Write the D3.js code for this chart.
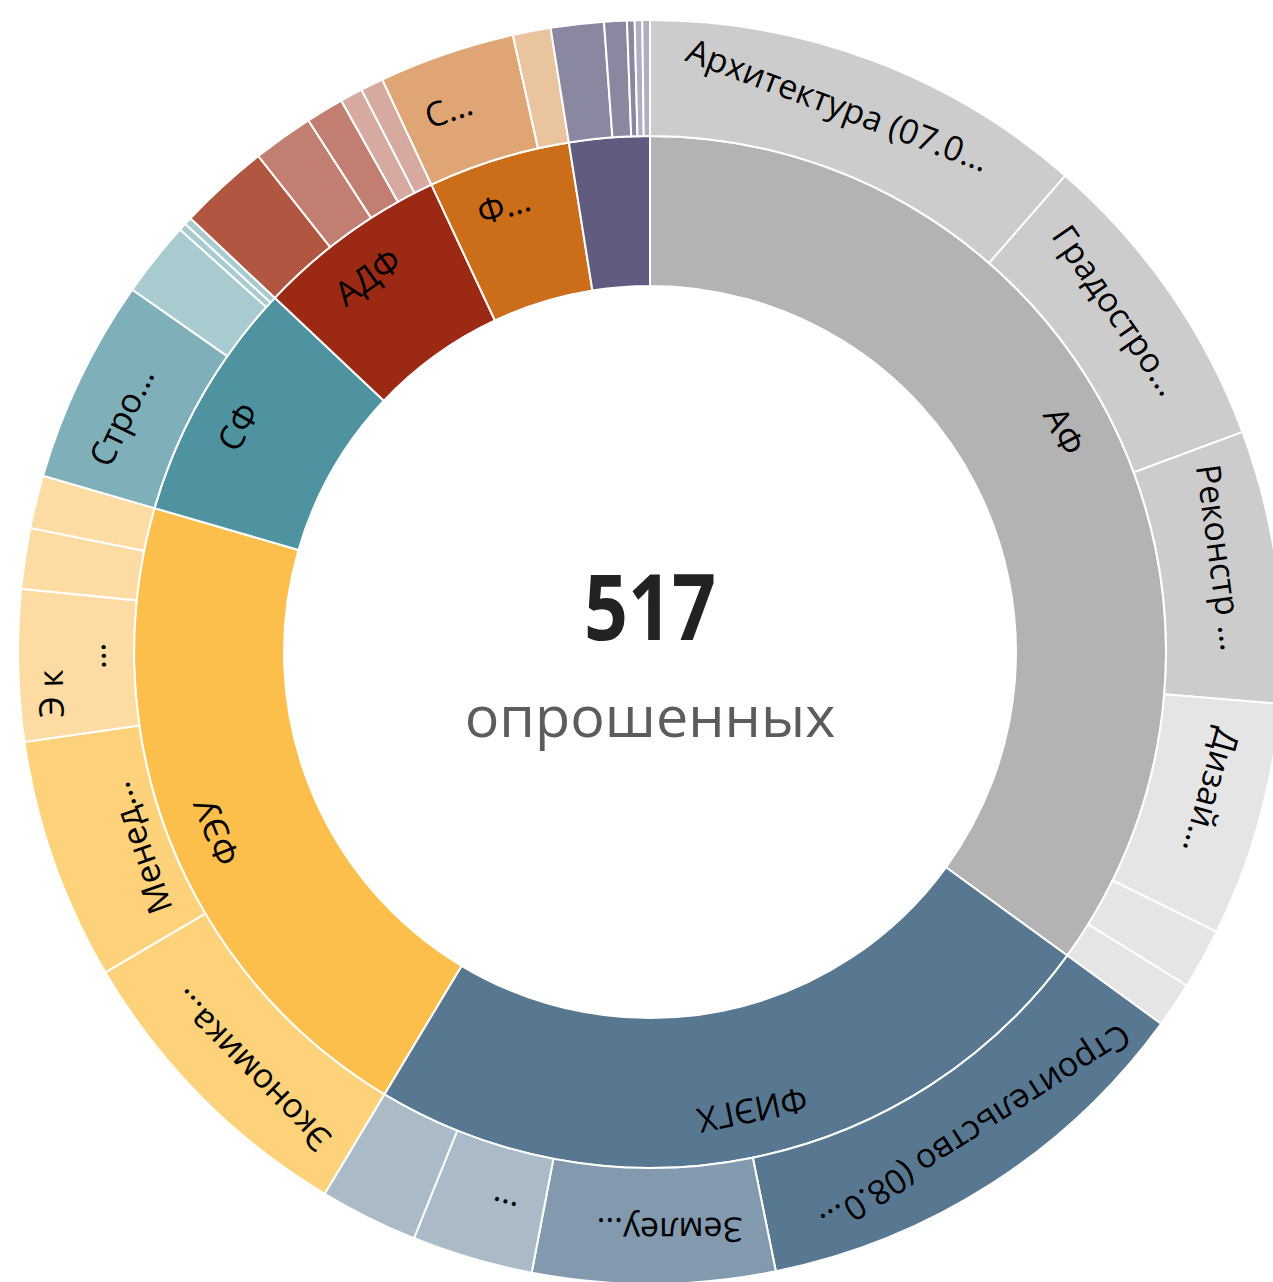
<!DOCTYPE html>
<html>
<head>
<meta charset="utf-8">
<script src="https://cdn.jsdelivr.net/npm/d3@7"></script>
<style>
  body { margin: 0; background: #fff; }
  text { font-family: "Open Sans", sans-serif; }
</style>
</head>
<body>
<div id="chart"></div>
<script>
// faculties (inner ring) and their programs (outer ring)
const facultyNames = ["АФ", "ФИЭГХ", "ФЭУ", "СФ", "АДФ", "Ф…", ""];

const programNames = [
  ["Архитектура (07.0…", "Градостро…", "Реконстр …", "Дизай…", "", ""],
  ["Строительство (08.0…", "Землеу…", "…", ""],
  ["Экономика…", "\nМенед…", "Э к\n…", "", ""],
  ["Стро…", "", "", ""],
  ["", "", "", "", ""],
  ["С…", ""],
  ["", "", "", "", ""]
];

const programCounts = [
  [59, 41, 36, 31, 8, 6],
  [61, 32, 16, 13],
  [41, 32, 20, 8, 7],
  [27, 10, 1, 1],
  [12, 8, 5, 3, 3],
  [18, 5],
  [7, 3, 1, 1, 1]
];

const totalLabel = "опрошенных";

// styles
const facultyColors = ["#b3b3b3", "#587891", "#fcbf4b", "#4f93a1", "#9c2913", "#cc6d19", "#615c7f"];
const programColors = [
  ["#cccccc", "#cccccc", "#cccccc", "#e5e5e5", "#e5e5e5", "#e5e5e5"],
  ["#587891", "#8399ad", "#aabac7", "#aabac7"],
  ["#fdd27b", "#fdd27b", "#fddca3", "#fddca3", "#fddca3"],
  ["#7fafb8", "#a8cbd0", "#a8cbd0", "#a8cbd0"],
  ["#b05641", "#c27f71", "#c27f71", "#d6aaa1", "#d6aaa1"],
  ["#e0a574", "#eac49f"],
  ["#8a87a0", "#8a87a0", "#8a87a0", "#b0aec0", "#b0aec0"]
];

const width = 1273, height = 1282;
const cx = 650, cy = 652;
const rings = [null, [366, 516], [516, 632]];
const labelRadius = [null, 469, 578];
const labelShift = [null, -9, -16];   // labels sit a little behind the mid angle
const fontSize = 34, lineHeight = 43;

const tree = {
  name: "root",
  children: facultyNames.map((name, i) => ({
    name,
    color: facultyColors[i],
    children: programNames[i].map((p, j) => ({
      name: p,
      value: programCounts[i][j],
      color: programColors[i][j]
    }))
  }))
};

const root = d3.hierarchy(tree)
  .sum(d => d.value || 0)
  .sort((a, b) => b.value - a.value);

d3.partition().size([2 * Math.PI, 1])(root);

const svg = d3.select("#chart").append("svg")
  .attr("width", width)
  .attr("height", height);

const g = svg.append("g")
  .attr("transform", `translate(${cx},${cy})`);

const arc = d3.arc()
  .startAngle(d => d.x0)
  .endAngle(d => d.x1)
  .innerRadius(d => rings[d.depth][0])
  .outerRadius(d => rings[d.depth][1]);

const nodes = root.descendants().filter(d => d.depth > 0);

g.append("g").attr("class", "arcs")
  .selectAll("path")
  .data(nodes)
  .join("path")
    .attr("d", arc)
    .attr("fill", d => d.data.color)
    .attr("stroke", "#fff")
    .attr("stroke-width", 2);

// labels run along the arc, rotated by the mid angle
const labels = g.append("g").attr("class", "labels")
  .selectAll("text")
  .data(nodes.filter(d => d.data.name))
  .join("text")
    .attr("transform", d => {
      const a = (d.x0 + d.x1) / 2;
      const r = labelRadius[d.depth];
      return `translate(${r * Math.sin(a)},${-r * Math.cos(a)}) rotate(${a * 180 / Math.PI})`;
    })
    .attr("x", d => labelShift[d.depth])
    .attr("text-anchor", "middle")
    .attr("font-size", fontSize)
    .attr("fill", "#000");

labels.each(function(d) {
  const lines = d.data.name.split("\n");
  const t = d3.select(this);
  lines.forEach((line, i) => {
    t.append("tspan")
      .attr("dy", i === 0 ? (-(lines.length - 1) * lineHeight / 2 + fontSize * 0.35) : lineHeight)
      .text(line);
  });
});

// center total
g.append("text")
  .attr("text-anchor", "middle")
  .attr("y", -12)
  .attr("font-size", 92)
  .attr("font-weight", 700)
  .attr("fill", "#222")
  .attr("textLength", 132)
  .attr("lengthAdjust", "spacingAndGlyphs")
  .text(root.value);

g.append("text")
  .attr("text-anchor", "middle")
  .attr("y", 85)
  .attr("font-size", 57.5)
  .attr("fill", "#5f5b5b")
  .text(totalLabel);
</script>
</body>
</html>
